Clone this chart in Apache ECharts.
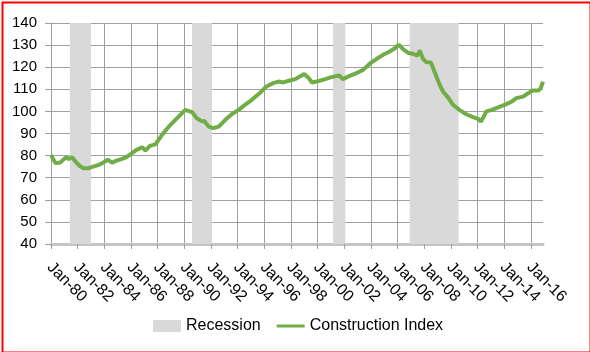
<!DOCTYPE html>
<html>
<head>
<meta charset="utf-8">
<script src="https://cdn.jsdelivr.net/npm/echarts@6/dist/echarts.min.js"></script>
<style>
html,body{margin:0;padding:0;background:#fff;}
#chart{width:590px;height:352px;}
</style>
</head>
<body>
<div id="chart"></div>
<script>
// Month categories Jan-80 ... Dec-16
const MONTH_NAMES = ['Jan','Feb','Mar','Apr','May','Jun','Jul','Aug','Sep','Oct','Nov','Dec'];
const START_YEAR = 1980;
const END_YEAR = 2016;
const categories = [];
for (let y = START_YEAR; y <= END_YEAR; y++) {
  for (let m = 0; m < 12; m++) {
    categories.push(MONTH_NAMES[m] + '-' + String(y % 100).padStart(2, '0'));
  }
}

// Construction Index readings (date, value)
const indexDates = [
  'Jan-80','May-80','Sep-80','Dec-80','Mar-81','May-81','Aug-81','Nov-81',
  'Mar-82','Jun-82','Nov-82','Mar-83','Aug-83','Dec-83','Apr-84','Aug-84',
  'Dec-84','May-85','Sep-85','Feb-86','Jun-86','Nov-86','Feb-87','Jun-87',
  'Nov-87','May-88','Nov-88','May-89','Nov-89','Feb-90','Aug-90','Dec-90',
  'May-91','Jul-91','Nov-91','Mar-92','Aug-92','Feb-93','Aug-93','Feb-94',
  'Jul-94','Dec-94','Sep-95','Mar-96','Sep-96','Feb-97','Jun-97','Dec-97',
  'May-98','Sep-98','Jan-99','May-99','Aug-99','Dec-99','Jun-00','Dec-00',
  'Aug-01','Dec-01','Jun-02','Dec-02','Jun-03','Dec-03','Jun-04','Dec-04',
  'Jun-05','Nov-05','Feb-06','Jun-06','Nov-06','Mar-07','Jul-07','Sep-07',
  'Dec-07','Mar-08','Jul-08','Sep-08','Dec-08','Mar-09','Jun-09','Nov-09',
  'Mar-10','Sep-10','Mar-11','Sep-11','Feb-12','Apr-12','Jun-12','Sep-12',
  'Feb-13','Jun-13','Nov-13','Mar-14','Aug-14','Dec-14','Jun-15','Nov-15',
  'Mar-16','Aug-16','Oct-16','Dec-16'
];
const indexValues = [
  80.3, 76.6, 76.8, 78.1, 79.3, 78.4, 79.3, 77.3,
  75.3, 74.3, 74.3, 75.0, 75.8, 76.8, 78.1, 76.8,
  77.7, 78.5, 79.3, 81.1, 82.6, 83.8, 82.3, 84.4,
  85.1, 89.4, 93.1, 96.2, 99.2, 100.7, 99.7, 97.0,
  95.5, 95.7, 93.1, 92.4, 93.1, 96.2, 98.8, 100.7,
  102.7, 104.5, 108.3, 111.3, 112.8, 113.5, 113.1, 114.0,
  114.6, 115.8, 116.9, 115.1, 113.1, 113.5, 114.3, 115.3,
  116.3, 114.6, 116.1, 117.3, 118.8, 121.6, 123.7, 125.6,
  127.1, 128.7, 130.2, 128.2, 126.4, 126.1, 125.2, 127.6,
  123.7, 122.3, 122.1, 119.6, 115.8, 112.0, 109.0, 106.0,
  103.0, 100.6, 98.7, 97.4, 96.5, 95.4, 97.0, 100.0,
  100.7, 101.5, 102.5, 103.3, 104.5, 106.0, 106.7, 108.3,
  109.5, 109.5, 110.5, 113.5
];

// Recession periods (start, end)
const recessionStarts = ['Jun-81', 'Aug-90', 'Mar-01', 'Dec-06'];
const recessionEnds   = ['Jan-83', 'Feb-92', 'Feb-02', 'Aug-10'];

// Axis settings
const Y_MIN = 40, Y_MAX = 140, Y_STEP = 10;
const LABEL_EVERY = 24; // months

const FONT = "'Liberation Sans', Arial, sans-serif";
const idx = d => categories.indexOf(d);
const lineData = indexDates.map((d, i) => [idx(d), indexValues[i]]);
const areaData = recessionStarts.map((s, i) => [{ xAxis: idx(s) }, { xAxis: idx(recessionEnds[i]) }]);

const LINE_ICON = 'path://M0,0 L0,0 M0,4.5 L28,4.5 L28,7.5 L0,7.5 Z M28,12 L28,12';

const chart = echarts.init(document.getElementById('chart'), null, { renderer: 'canvas' });
chart.setOption({
  animation: false,
  backgroundColor: '#fff',
  textStyle: { fontFamily: FONT },
  grid: { left: 51, right: 47, top: 23, bottom: 108, containLabel: false },
  legend: {
    left: 153, top: 318, padding: 0,
    itemWidth: 28, itemHeight: 12, itemGap: 16,
    textStyle: { fontSize: 16, color: '#000', fontFamily: FONT },
    data: [
      { name: 'Recession', icon: 'rect' },
      { name: 'Construction Index', icon: LINE_ICON }
    ]
  },
  xAxis: [{
    type: 'category',
    data: categories,
    boundaryGap: false,
    axisLine: { show: true, lineStyle: { color: '#c4c4c4', width: 3 } },
    axisTick: { show: true, interval: LABEL_EVERY - 1, length: 5, lineStyle: { color: '#a0a0a0', width: 1 } },
    axisLabel: {
      interval: LABEL_EVERY - 1, rotate: -45, margin: 11,
      verticalAlign: 'top', padding: [0, 0, 0, 6],
      fontSize: 16, color: '#000', fontFamily: FONT
    },
    splitLine: { show: true, interval: LABEL_EVERY - 1, lineStyle: { color: '#a0a0a0', width: 1 } }
  }, {
    // hidden linear month-index axis used to place recession shading
    type: 'value',
    min: 0, max: categories.length - 1,
    show: false,
    axisLine: { show: false }, axisTick: { show: false }, axisLabel: { show: false }, splitLine: { show: false }
  }],
  yAxis: {
    type: 'value',
    min: Y_MIN, max: Y_MAX, interval: Y_STEP,
    axisLine: { show: true, lineStyle: { color: '#a0a0a0', width: 1 } },
    axisTick: { show: true, length: 6, lineStyle: { color: '#a0a0a0', width: 1 } },
    axisLabel: { margin: 14, fontSize: 15, color: '#000', fontFamily: FONT },
    splitLine: { show: true, lineStyle: { color: '#a0a0a0', width: 1 } }
  },
  series: [
    {
      name: 'Recession',
      type: 'line',
      xAxisIndex: 1,
      data: [],
      symbol: 'none',
      itemStyle: { color: '#d9d9d9' },
      lineStyle: { color: '#d9d9d9' },
      markArea: {
        silent: true,
        itemStyle: { color: '#d9d9d9', opacity: 1 },
        data: areaData
      }
    },
    {
      name: 'Construction Index',
      type: 'line',
      xAxisIndex: 0,
      data: lineData,
      symbol: 'none',
      z: 5,
      lineStyle: { color: '#70ad47', width: 4 },
      itemStyle: { color: '#70ad47' }
    }
  ],
  graphic: [{
    type: 'rect', left: 0, top: 0, silent: true, z: 100,
    shape: { x: 1, y: 1, width: 588, height: 350 },
    style: { fill: 'none', stroke: '#ff0000', lineWidth: 2 }
  }]
});
</script>
</body>
</html>
